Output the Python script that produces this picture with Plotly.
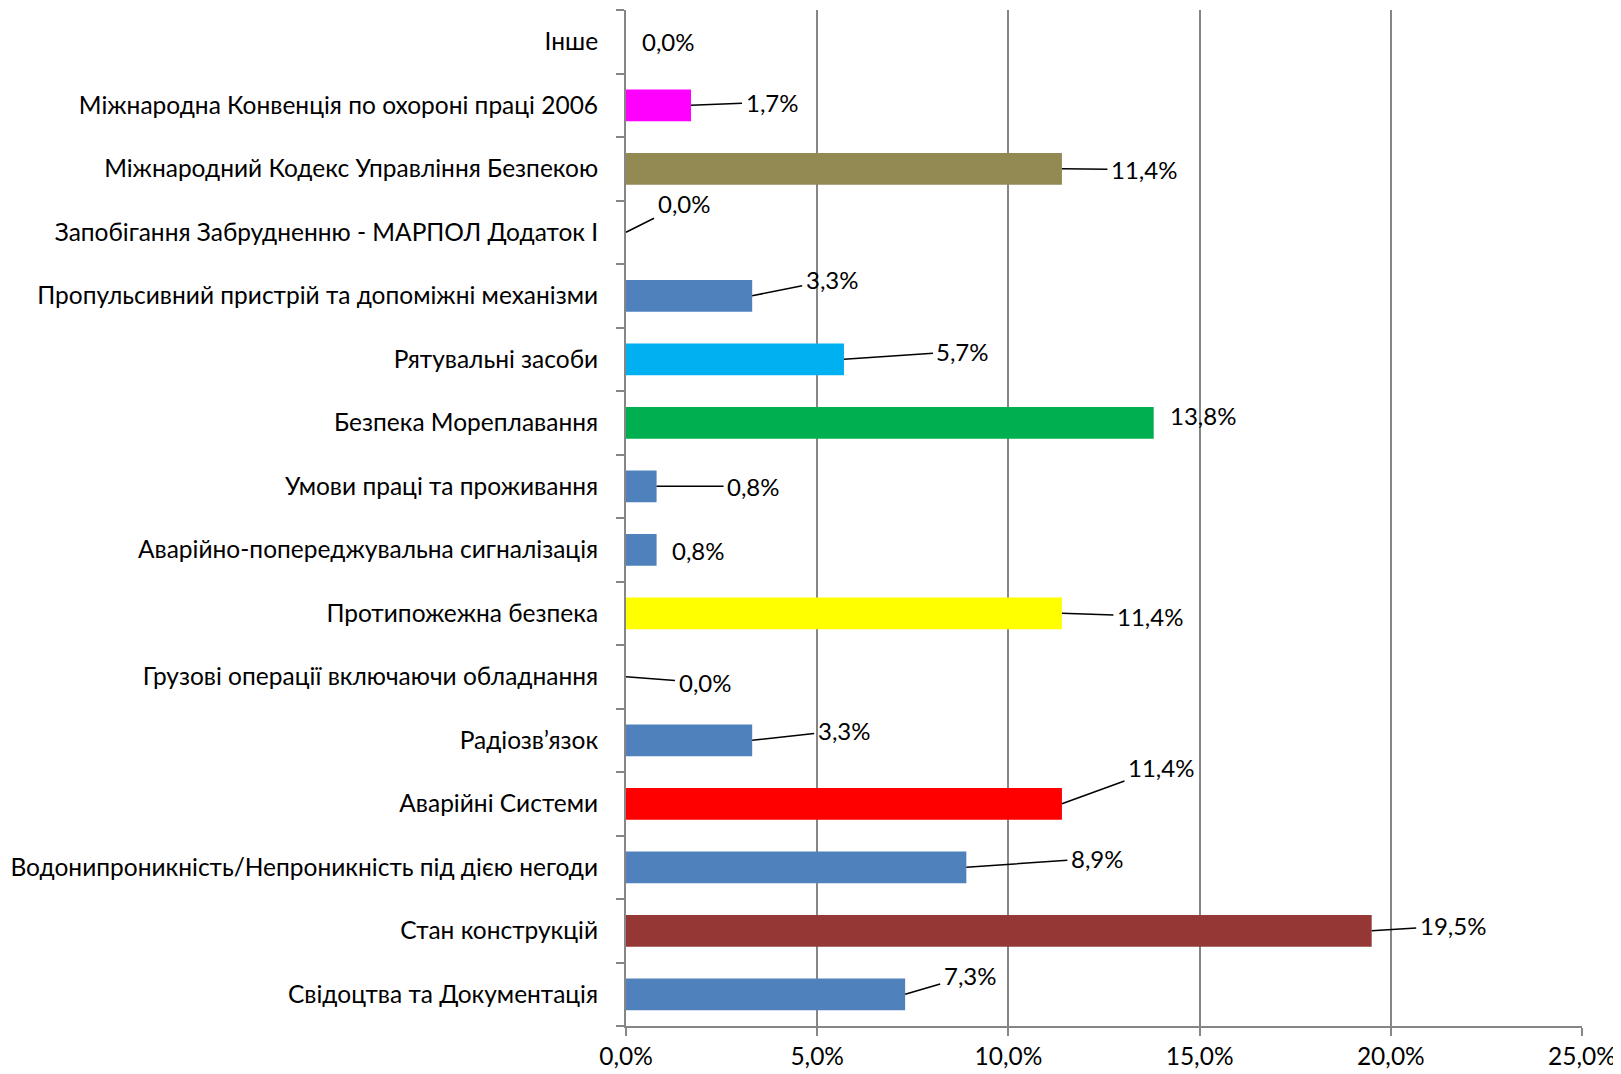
import plotly.graph_objects as go

categories = [
    "Свідоцтва та Документація",
    "Стан конструкцій",
    "Водонипроникність/Непроникність під дією негоди",
    "Аварійні Системи",
    "Радіозв’язок",
    "Грузові операції включаючи обладнання",
    "Протипожежна безпека",
    "Аварійно-попереджувальна сигналізація",
    "Умови праці та проживання",
    "Безпека Мореплавання",
    "Рятувальні засоби",
    "Пропульсивний пристрій та допоміжні механізми",
    "Запобігання Забрудненню - МАРПОЛ Додаток I",
    "Міжнародний Кодекс Управління Безпекою",
    "Міжнародна Конвенція по охороні праці 2006",
    "Інше",
]
values = [7.3, 19.5, 8.9, 11.4, 3.3, 0.0, 11.4, 0.8, 0.8, 13.8, 5.7, 3.3, 0.0, 11.4, 1.7, 0.0]
colors = [
    "#4F81BD", "#953735", "#4F81BD", "#FF0000", "#4F81BD", "#4F81BD",
    "#FFFF00", "#4F81BD", "#4F81BD", "#00B050", "#00B0F0", "#4F81BD",
    "#4F81BD", "#938953", "#FF00FF", "#4F81BD",
]
x_ticks = [0, 5, 10, 15, 20, 25]

# label offsets in pixels from the bar end (dx, dy), and whether a leader line is drawn
label_offsets = [
    (65, -19, True), (81, -5, True), (131, -9, True), (99, -36, True),
    (92, -10, True), (79, 6, True), (88, 3, True), (42, 1, False),
    (97, 0, True), (49, -7, False), (119, -8, True), (80, -16, True),
    (58, -29, True), (82, 1, True), (81, -3, True), (42, 0, False),
]

FONT = "Lato"

fig = go.Figure()
fig.add_trace(go.Bar(
    y=categories, x=values, orientation="h",
    marker=dict(color=colors, line=dict(width=0)),
    width=0.5,
))

for cat, val, (dx, dy, leader) in zip(categories, values, label_offsets):
    txt = f"{val:.1f}%".replace(".", ",")
    if leader:
        fig.add_annotation(
            x=val, y=cat, xref="x", yref="y", text=txt,
            showarrow=True, ax=dx, ay=dy, arrowhead=0, arrowwidth=1.5,
            arrowcolor="black", standoff=0, borderpad=3,
            font=dict(family=FONT, size=24, color="black"),
        )
    else:
        fig.add_annotation(
            x=val, y=cat, xref="x", yref="y", text=txt, showarrow=False,
            xshift=dx, yshift=-dy, font=dict(family=FONT, size=24, color="black"),
        )

fig.update_layout(
    width=1613, height=1066,
    margin=dict(l=618, r=39, t=2, b=48),
    plot_bgcolor="white", paper_bgcolor="white",
    showlegend=False,
    font=dict(family=FONT, size=24.5, color="black"),
)
fig.update_xaxes(
    range=[0, 25], tickvals=x_ticks,
    ticktext=[f"{t:.1f}%".replace(".", ",") for t in x_ticks],
    showgrid=True, gridcolor="#868686", gridwidth=2,
    showline=True, linecolor="#868686", linewidth=2,
    ticks="outside", ticklen=8, tickcolor="#868686", tickwidth=2,
    zeroline=False, automargin=False,
)
fig.update_yaxes(
    type="category", tickson="boundaries",
    showgrid=False, showline=True, linecolor="#868686", linewidth=2,
    ticks="outside", ticklen=8, tickcolor="#868686", tickwidth=2,
    ticklabelstandoff=21, automargin=False,
)

fig.write_html("out.html")
